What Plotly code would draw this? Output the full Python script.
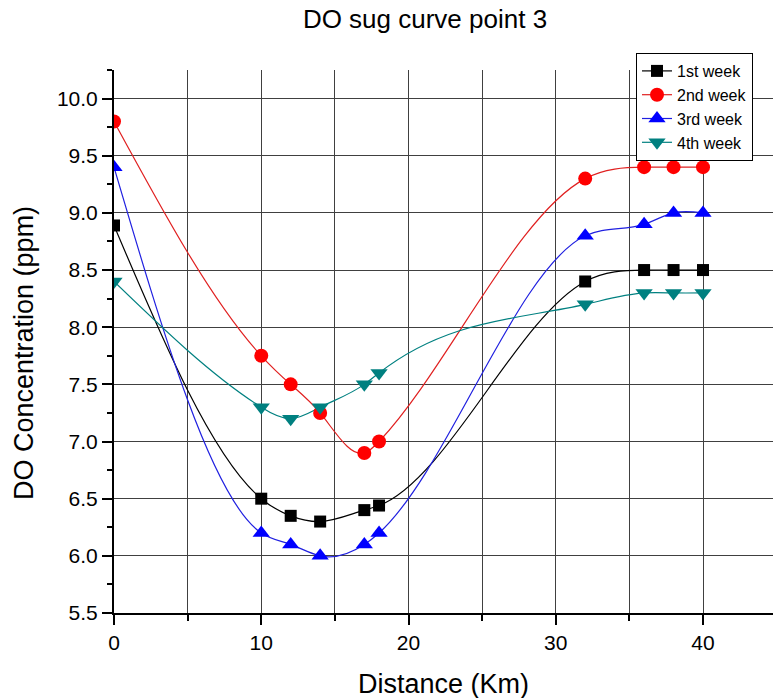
import numpy as np
import plotly.graph_objects as go

# Sampling distances along the river (km)
distance = [0, 10, 12, 14, 17, 18, 32, 36, 38, 40]

# Dissolved oxygen readings (ppm) for each week
week1 = [8.89, 6.50, 6.35, 6.30, 6.40, 6.44, 8.40, 8.50, 8.50, 8.50]
week2 = [9.80, 7.75, 7.50, 7.25, 6.90, 7.00, 9.30, 9.40, 9.40, 9.40]
week3 = [9.40, 6.20, 6.10, 6.00, 6.10, 6.20, 8.80, 8.90, 9.00, 9.00]
week4 = [8.40, 7.30, 7.20, 7.30, 7.50, 7.60, 8.20, 8.30, 8.30, 8.30]

series_names = ["1st week", "2nd week", "3rd week", "4th week"]
x_tick_vals = [0, 10, 20, 30, 40]
y_tick_vals = [5.5, 6.0, 6.5, 7.0, 7.5, 8.0, 8.5, 9.0, 9.5, 10.0]

FONT = "Liberation Sans, Arial, sans-serif"

styles = [
    dict(line="#000000", marker="#000000", symbol="square", size=12),
    dict(line="#e02020", marker="#ff0000", symbol="circle", size=14),
    dict(line="#2020e0", marker="#0000ff", symbol="triangle-up", size=15),
    dict(line="#008080", marker="#008080", symbol="triangle-down", size=15),
]


def spline_connector(xs, ys):
    """SVG path (data coordinates) of the natural cubic spline through the
    points, written as one cubic Bezier segment per interval."""
    xs = np.asarray(xs, float)
    ys = np.asarray(ys, float)
    n = len(xs)
    h = np.diff(xs)
    A = np.zeros((n, n))
    rhs = np.zeros(n)
    A[0, 0] = A[-1, -1] = 1.0
    for i in range(1, n - 1):
        A[i, i - 1] = h[i - 1]
        A[i, i] = 2 * (h[i - 1] + h[i])
        A[i, i + 1] = h[i]
        rhs[i] = 6 * ((ys[i + 1] - ys[i]) / h[i] - (ys[i] - ys[i - 1]) / h[i - 1])
    M = np.linalg.solve(A, rhs)
    d = np.empty(n)
    for i in range(n - 1):
        d[i] = (ys[i + 1] - ys[i]) / h[i] - h[i] * (2 * M[i] + M[i + 1]) / 6
    d[-1] = (ys[-1] - ys[-2]) / h[-1] + h[-1] * (M[-2] + 2 * M[-1]) / 6
    path = f"M {xs[0]:.4f},{ys[0]:.4f}"
    for i in range(n - 1):
        c1x, c1y = xs[i] + h[i] / 3, ys[i] + d[i] * h[i] / 3
        c2x, c2y = xs[i + 1] - h[i] / 3, ys[i + 1] - d[i + 1] * h[i] / 3
        path += (f" C {c1x:.4f},{c1y:.4f} {c2x:.4f},{c2y:.4f}"
                 f" {xs[i + 1]:.4f},{ys[i + 1]:.4f}")
    return path


fig = go.Figure()
shapes = []
for name, values, st in zip(series_names, [week1, week2, week3, week4], styles):
    # smooth connecting curve through the readings
    shapes.append(dict(type="path", path=spline_connector(distance, values),
                       xref="x", yref="y", layer="between",
                       line=dict(color=st["line"], width=1.2)))
    # the readings themselves
    fig.add_trace(go.Scatter(
        x=distance, y=values, name=name, mode="markers", showlegend=False,
        marker=dict(color=st["marker"], symbol=st["symbol"], size=st["size"],
                    line=dict(width=0)),
    ))

# legend entries (line + symbol key for each week)
for name, st in zip(series_names, styles):
    fig.add_trace(go.Scatter(
        x=[None], y=[None], name=name, mode="lines+markers",
        line=dict(color=st["line"], width=1.2),
        marker=dict(color=st["marker"], symbol=st["symbol"], size=st["size"],
                    line=dict(width=0)),
    ))

W, H = 773, 698
L, R, T, B = 114, 0, 70, 85

fig.update_layout(
    width=W, height=H,
    margin=dict(l=L, r=R, t=T, b=B, autoexpand=False),
    paper_bgcolor="white", plot_bgcolor="white",
    font=dict(family=FONT, color="#000000"),
    title=dict(text="DO sug curve point 3", font=dict(size=26, family=FONT, color="#000"),
               x=(425 - L) / (W - L - R), xref="paper", xanchor="center",
               y=1 - 19 / H, yref="container", yanchor="middle"),
    showlegend=True,
    legend=dict(x=(636 - L) / (W - L - R), y=(H - B - 53) / (H - T - B),
                xanchor="left", yanchor="top",
                bgcolor="white", bordercolor="#000", borderwidth=1,
                font=dict(size=16, family=FONT, color="#000"),
                tracegroupgap=0, itemsizing="trace"),
    shapes=shapes,
    xaxis=dict(
        range=[0, (W - L - R) / 14.725],
        tickvals=x_tick_vals, ticktext=[str(v) for v in x_tick_vals],
        showgrid=True, gridcolor="#404040", gridwidth=1,
        showline=True, linecolor="#000", linewidth=2, mirror=False,
        ticks="outside", ticklen=10, tickwidth=2, tickcolor="#000",
        tickfont=dict(size=21, family=FONT, color="#000"),
        zeroline=False,
        minor=dict(dtick=5, tick0=0, showgrid=True, gridcolor="#404040", gridwidth=1,
                   ticks="outside", ticklen=6, tickwidth=2, tickcolor="#000"),
    ),
    yaxis=dict(
        range=[5.5, 10.25],
        tickvals=y_tick_vals, ticktext=[f"{v:.1f}" for v in y_tick_vals],
        showgrid=True, gridcolor="#404040", gridwidth=1,
        showline=True, linecolor="#000", linewidth=2, mirror=False,
        ticks="outside", ticklen=10, tickwidth=2, tickcolor="#000",
        tickfont=dict(size=21, family=FONT, color="#000"),
        zeroline=False,
        minor=dict(dtick=0.25, tick0=5.5, showgrid=False,
                   ticks="outside", ticklen=5, tickwidth=2, tickcolor="#000"),
    ),
    annotations=[
        dict(text="Distance (Km)", xref="paper", yref="paper",
             x=0.5, y=(H - B - 684) / (H - T - B), xanchor="center", yanchor="middle",
             showarrow=False, font=dict(size=27, family=FONT, color="#000")),
        dict(text="DO Concentration (ppm)", xref="paper", yref="paper",
             x=(24 - L) / (W - L - R), y=(H - B - 353) / (H - T - B),
             xanchor="center", yanchor="middle", textangle=-90,
             showarrow=False, font=dict(size=27, family=FONT, color="#000")),
    ],
)

fig.write_html("out.html")
